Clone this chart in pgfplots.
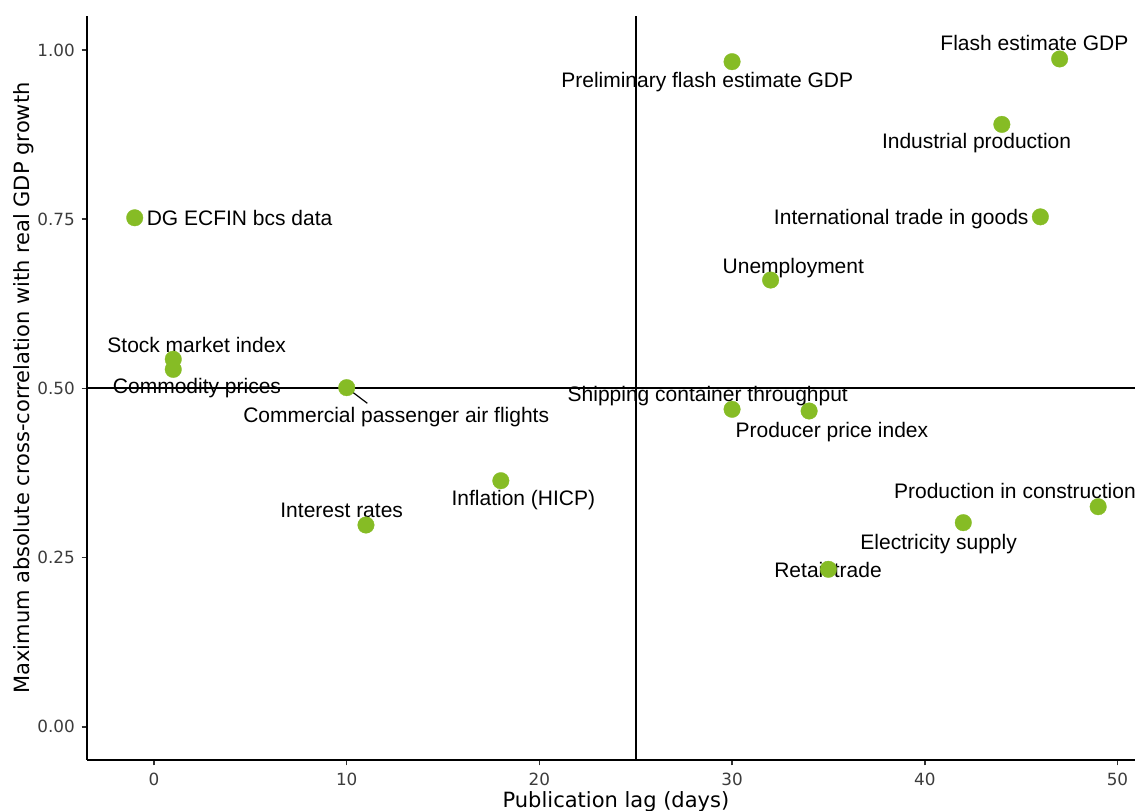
\documentclass[border=0pt]{standalone}
\usepackage{fontspec}
\setmainfont{Liberation Sans}
\newfontfamily\dejavu{DejaVu Sans}
\usepackage{pgfplots}
\usepackage{pgfplotstable}
\pgfplotsset{compat=1.18}
\definecolor{ptgreen}{RGB}{134,188,37}
\definecolor{ticktxt}{RGB}{60,60,60}
\definecolor{tickln}{RGB}{51,51,51}

% publication lag (days), max abs cross-correlation
\pgfplotstableread{
x y
-1 0.752
1 0.543
1 0.528
10 0.501
11 0.298
18 0.3635
30 0.9827
47 0.9867
44 0.890
46 0.7534
32 0.660
30 0.469
34 0.4665
49 0.3251
42 0.3015
35 0.2326
}\pointdata

\tikzset{lbl/.style={font=\fontsize{21}{24}\selectfont, text=black, inner sep=0pt, text height=15.1pt, text depth=0pt, anchor=center}}

\begin{document}
\begin{tikzpicture}
\begin{axis}[
  at={(87pt,51pt)}, anchor=south west,
  scale only axis, width=1048pt, height=744pt,
  xmin=-3.477, xmax=50.91, ymin=-0.0492, ymax=1.0502,
  axis x line*=bottom, axis y line*=left,
  axis line style={-, black, line width=1.6pt},
  xtick={0,10,20,30,40,50}, ytick={0,0.25,0.5,0.75,1},
  tick align=outside, major tick length=5.5pt,
  tick style={tickln, line width=1.6pt},
  /pgf/number format/assume math mode=true,
  scaled y ticks=false,
  xticklabel style={font=\dejavu\fontsize{16.8}{18}\selectfont, text=ticktxt, inner sep=0pt, anchor=base, yshift=-19.6pt},
  yticklabel style={font=\dejavu\fontsize{16.8}{18}\selectfont, text=ticktxt, inner sep=0pt, anchor=east, xshift=-6.5pt,
    /pgf/number format/fixed, /pgf/number format/fixed zerofill, /pgf/number format/precision=2},
  xlabel={Publication lag (days)},
  ylabel={Maximum absolute cross-correlation with real GDP growth},
  label style={font=\dejavu\fontsize{21}{24}\selectfont, text=black, inner sep=0pt},
  xlabel style={at={(axis description cs:0.5047,-0.0645)}, anchor=base},
  ylabel style={at={(axis description cs:-0.0549,0.5)}, anchor=base},
  clip=false,
]
\addplot[only marks, mark=*, mark size=8.3pt, color=ptgreen, mark options={fill=ptgreen, draw=ptgreen, line width=0.3pt}] table {\pointdata};

\node[lbl] at (axis cs:4.44,0.7517) {DG ECFIN bcs data};
\node[lbl] at (axis cs:2.216,0.5644) {Stock market index};
\node[lbl] at (axis cs:2.231,0.5030) {Commodity prices};
\node[lbl] at (axis cs:12.57,0.4602) {Commercial passenger air flights};
\draw[black, line width=1.2pt] (axis cs:10,0.501) -- (axis cs:11.07,0.4779);
\node[lbl] at (axis cs:9.74,0.3205) {Interest rates};
\node[lbl] at (axis cs:19.17,0.3377) {Inflation (HICP)};
\node[lbl] at (axis cs:28.71,0.9564) {Preliminary flash estimate GDP};
\node[lbl] at (axis cs:45.69,1.0106) {Flash estimate GDP};
\node[lbl] at (axis cs:42.69,0.8652) {Industrial production};
\node[lbl] at (axis cs:38.78,0.7529) {International trade in goods};
\node[lbl] at (axis cs:33.18,0.6811) {Unemployment};
\node[lbl] at (axis cs:28.74,0.4920) {Shipping container throughput};
\node[lbl] at (axis cs:35.18,0.4387) {Producer price index};
\node[lbl, anchor=west] at (axis cs:38.40,0.3486) {Production in construction};
\node[lbl] at (axis cs:40.72,0.2734) {Electricity supply};
\node[lbl] at (axis cs:34.98,0.2323) {Retail trade};

\addplot[black, line width=1.8pt] coordinates {(-3.477,0.5) (50.91,0.5)};
\addplot[black, line width=1.6pt] coordinates {(25,-0.0492) (25,1.0502)};
\end{axis}
\pgfresetboundingbox
\useasboundingbox (0,0) rectangle (1135pt,811pt);
\end{tikzpicture}
\end{document}
